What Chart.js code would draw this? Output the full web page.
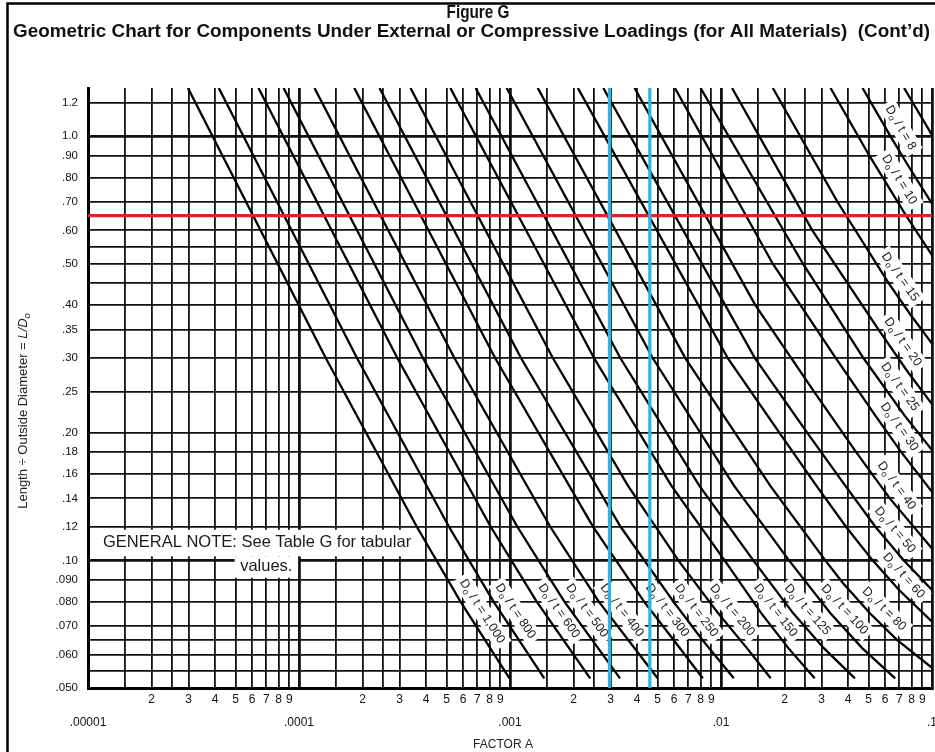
<!DOCTYPE html>
<html>
<head>
<meta charset="utf-8">
<script src="https://cdn.jsdelivr.net/npm/chart.js@4.4.1/dist/chart.umd.min.js"></script>
<style>
  html, body { margin: 0; padding: 0; background: #fff; }
  #wrap { width: 935px; height: 752px; position: relative; }
</style>
</head>
<body>
<div id="wrap"><canvas id="c" width="935" height="752"></canvas></div>
<script>
// ---- axis grid values and tick labels ----
const X_DECADES = [1e-5, 1e-4, 1e-3, 1e-2, 1e-1];
const X_DECADE_LABELS = ['.00001', '.0001', '.001', '.01', '.1'];
const X_MULTIPLES = [1, 1.5, 2, 2.5, 3, 4, 5, 6, 7, 8, 9];
const X_DIGIT_LABELS = ['', '', '2', '', '3', '4', '5', '6', '7', '8', '9'];

const Y_GRID = [0.05, 0.055, 0.06, 0.065, 0.07, 0.08, 0.09, 0.10, 0.12, 0.14, 0.16, 0.18, 0.20,
  0.25, 0.30, 0.35, 0.40, 0.45, 0.50, 0.55, 0.60, 0.65, 0.70, 0.80, 0.90, 1.0, 1.2];
const Y_LABELS = ['.050', '', '.060', '', '.070', '.080', '.090', '.10', '.12', '.14', '.16', '.18', '.20',
  '.25', '.30', '.35', '.40', '', '.50', '', '.60', '', '.70', '.80', '.90', '1.0', '1.2'];
const Y_HEAVY = [0.10, 1.0];

// ---- Do/t curves: [Factor A, L/Do] points along each line ----
const CURVE_1000 = [[2.976e-5, 1.3], [1.339e-4, 0.3], [3.617e-4, 0.12], [5.817e-4, 0.08], [9.945e-4, 0.0527]];
const CURVE_800 = [[4.165e-5, 1.3], [1.8825e-4, 0.3], [5.138e-4, 0.12], [8.345e-4, 0.08], [1.4537e-3, 0.0527]];
const CURVE_600 = [[6.424e-5, 1.3], [2.9233e-4, 0.3], [8.101e-4, 0.12], [1.3359e-3, 0.08], [2.3982e-3, 0.0527]];
const CURVE_500 = [[8.455e-5, 1.3], [3.8667e-4, 0.3], [1.0835e-3, 0.12], [1.8073e-3, 0.08], [3.3217e-3, 0.0527]];
const CURVE_400 = [[1.184e-4, 1.3], [5.45e-4, 0.3], [1.5513e-3, 0.12], [2.6304e-3, 0.08], [5.0083e-3, 0.0527]];
const CURVE_300 = [[1.828e-4, 1.3], [8.499e-4, 0.3], [2.4771e-3, 0.12], [4.3114e-3, 0.08], [5.95e-3, 0.065], [8.2e-3, 0.0527]];
const CURVE_250 = [[2.407e-4, 1.3], [1.1273e-3, 0.3], [3.3439e-3, 0.12], [5.939e-3, 0.08], [8.15e-3, 0.065], [0.0115, 0.0527]];
const CURVE_200 = [[3.374e-4, 1.3], [1.5956e-3, 0.3], [3.6208e-3, 0.15], [6.276e-3, 0.1], [9.7e-3, 0.075], [0.0133, 0.062], [0.0172, 0.0527]];
const CURVE_150 = [[5.214e-4, 1.3], [2.5017e-3, 0.3], [5.815e-3, 0.15], [0.0104, 0.1], [0.01554, 0.075], [0.0209, 0.062], [0.0278, 0.0527]];
const CURVE_125 = [[6.872e-4, 1.3], [3.3328e-3, 0.3], [7.888e-3, 0.15], [0.01423, 0.1], [0.022, 0.075], [0.0308, 0.062], [0.0431, 0.0527]];
const CURVE_100 = [[9.641e-4, 1.3], [4.745e-3, 0.3], [0.011524, 0.15], [0.021, 0.1], [0.033, 0.075], [0.0468, 0.062], [0.0669, 0.0527]];
const CURVE_80 = [[1.3531e-3, 1.3], [6.772e-3, 0.3], [0.0171, 0.15], [0.0312, 0.1], [0.0379, 0.0883], [0.0508, 0.075], [0.068, 0.065], [0.1, 0.0558]];
const CURVE_60 = [[2.0968e-3, 1.3], [0.010764, 0.3], [0.0189, 0.2], [0.0283, 0.15], [0.0391, 0.12], [0.0523, 0.1], [0.07, 0.085], [0.1, 0.0717]];
const CURVE_50 = [[2.7678e-3, 1.3], [0.014478, 0.3], [0.0256, 0.2], [0.0388, 0.15], [0.0539, 0.12], [0.0734, 0.1], [0.1, 0.0852]];
const CURVE_40 = [[3.8923e-3, 1.3], [0.014545, 0.4], [0.0276, 0.25], [0.0437, 0.18], [0.0631, 0.14], [0.1, 0.1067]];
const CURVE_30 = [[6.0468e-3, 1.3], [0.017624, 0.5], [0.035, 0.3], [0.0537, 0.22], [0.0715, 0.18], [0.1, 0.1451]];
const CURVE_25 = [[8.0e-3, 1.3], [0.0245, 0.5], [0.0473, 0.3], [0.0739, 0.22], [0.1, 0.182]];
const CURVE_20 = [[0.011281, 1.3], [0.027092, 0.6], [0.0558, 0.35], [0.0761, 0.28], [0.1, 0.2335]];
const CURVE_15 = [[0.017596, 1.3], [0.03568, 0.7], [0.062403, 0.45], [0.078961, 0.38], [0.1, 0.3245]];
const CURVE_10 = [[0.033048, 1.3], [0.050495, 0.9], [0.07536, 0.65], [0.1, 0.5249]];
const CURVE_8 = [[0.046867, 1.3], [0.063587, 1.0], [0.077392, 0.85], [0.1, 0.6938]];
const CURVE_6 = [[0.073753, 1.3], [0.1, 1.007]];

const DO_T_VALUES = ['1,000', '800', '600', '500', '400', '300', '250', '200', '150', '125', '100',
  '80', '60', '50', '40', '30', '25', '20', '15', '10', '8', ''];
const CURVES = [CURVE_1000, CURVE_800, CURVE_600, CURVE_500, CURVE_400, CURVE_300, CURVE_250, CURVE_200,
  CURVE_150, CURVE_125, CURVE_100, CURVE_80, CURVE_60, CURVE_50, CURVE_40, CURVE_30, CURVE_25, CURVE_20,
  CURVE_15, CURVE_10, CURVE_8, CURVE_6];
// L/Do level along each curve where its Do/t tag sits
const TAG_AT_L = [0.073, 0.073, 0.073, 0.073, 0.073, 0.073, 0.073, 0.073, 0.073, 0.073, 0.073,
  0.073, 0.0878, 0.1127, 0.1439, 0.1982, 0.2463, 0.3145, 0.4477, 0.762, 1.011, null];

// ---- reference readings ----
const SELECTED_L = 0.65;
const SELECTED_A = [0.00296, 0.0046];

// ---- derived tick tables ----
const X_TICKS = [];
X_DECADES.forEach((d, i) => {
  if (i === X_DECADES.length - 1) {
    X_TICKS.push({ value: d, label: ['', X_DECADE_LABELS[i]], major: true });
    return;
  }
  X_MULTIPLES.forEach((m, j) => {
    X_TICKS.push({
      value: d * m,
      label: j === 0 ? ['', X_DECADE_LABELS[i]] : [X_DIGIT_LABELS[j]],
      major: j === 0
    });
  });
});

const FONT = '"Liberation Sans", Arial, Helvetica, sans-serif';

const datasets = [];
SELECTED_A.forEach(a => {
  datasets.push({
    data: [{ x: a, y: 0.05 }, { x: a, y: 1.3 }],
    borderColor: '#29b6e6', borderWidth: 3.2, order: 0
  });
});
datasets.push({
  data: [{ x: 1e-5, y: SELECTED_L }, { x: 0.1, y: SELECTED_L }],
  borderColor: '#e3202e', borderWidth: 3.2, order: 1
});
CURVES.forEach((c, i) => {
  datasets.push({
    data: c.map(p => ({ x: p[0], y: p[1] })),
    borderColor: '#000', borderWidth: 2.3, order: 2,
    doT: DO_T_VALUES[i], tagL: TAG_AT_L[i]
  });
});

// find where a drawn curve crosses a given pixel row
function crossing(meta, yPix) {
  const pts = meta.data;
  for (let i = 0; i < pts.length - 1; i++) {
    const a = pts[i], b = pts[i + 1];
    if ((a.y - yPix) * (b.y - yPix) <= 0 && a.y !== b.y) {
      const t = (yPix - a.y) / (b.y - a.y);
      return { x: a.x + t * (b.x - a.x), y: yPix, ang: Math.atan2(b.y - a.y, b.x - a.x) };
    }
  }
  return null;
}

function drawTag(ctx, cx, cy, ang, value) {
  const big = '12.5px ' + FONT, small = '9px ' + FONT;
  ctx.save();
  ctx.translate(cx, cy);
  ctx.rotate(ang);
  ctx.font = big;
  const wD = ctx.measureText('D').width;
  const rest = ' / t = ' + value;
  const wR = ctx.measureText(rest).width;
  ctx.font = small;
  const wo = ctx.measureText('o').width;
  const w = wD + wo + wR;
  ctx.fillStyle = '#fff';
  ctx.fillRect(-w / 2 - 4, -9, w + 8, 18);
  ctx.fillStyle = '#1a1a1a';
  ctx.textBaseline = 'middle';
  ctx.textAlign = 'left';
  let x = -w / 2;
  ctx.font = big; ctx.fillText('D', x, 0); x += wD;
  ctx.font = small; ctx.fillText('o', x, 3.5); x += wo;
  ctx.font = big; ctx.fillText(rest, x, 0);
  ctx.restore();
}

const decorations = {
  id: 'decorations',
  beforeDraw(chart) {
    const ctx = chart.ctx;
    ctx.save();
    ctx.fillStyle = '#fff';
    ctx.fillRect(0, 0, chart.width, chart.height);
    ctx.restore();
  },
  beforeDatasetsDraw(chart) {
    const ctx = chart.ctx;
    const xs = chart.scales.x, ys = chart.scales.y, area = chart.chartArea;
    // general note panel
    const y12 = ys.getPixelForValue(0.12), y10 = ys.getPixelForValue(0.10), y09 = ys.getPixelForValue(0.09);
    ctx.save();
    ctx.fillStyle = '#fff';
    ctx.fillRect(area.left + 3, y12 + 3, xs.getPixelForValue(3.9e-4) - area.left - 3, y10 - y12 - 7);
    ctx.fillRect(xs.getPixelForValue(4.95e-5), y10 - 4, xs.getPixelForValue(9.9e-5) - xs.getPixelForValue(4.95e-5), y09 - y10 + 2);
    ctx.fillStyle = '#1a1a1a';
    ctx.font = '16.5px ' + FONT;
    ctx.textBaseline = 'middle';
    ctx.textAlign = 'left';
    ctx.fillText('GENERAL NOTE: See Table G for tabular', area.left + 15, y12 + 16);
    ctx.textAlign = 'center';
    ctx.fillText('values.', xs.getPixelForValue(7.0e-5), y10 + 6);
    ctx.restore();
    // Do/t tags
    chart.data.datasets.forEach((ds, i) => {
      if (!ds.doT || ds.tagL == null) return;
      const meta = chart.getDatasetMeta(i);
      const c = crossing(meta, ys.getPixelForValue(ds.tagL));
      if (!c) return;
      const off = 13;
      const cx = c.x + Math.sin(c.ang) * off, cy = c.y - Math.cos(c.ang) * off;
      drawTag(ctx, cx, cy, c.ang, ds.doT);
    });
  },
  afterDraw(chart) {
    const ctx = chart.ctx;
    ctx.save();
    // frame
    ctx.strokeStyle = '#000';
    ctx.lineWidth = 2.5;
    ctx.beginPath();
    ctx.moveTo(7.5, chart.height + 2);
    ctx.lineTo(7.5, 3.5);
    ctx.lineTo(chart.width + 2, 3.5);
    ctx.stroke();
    // titles
    ctx.fillStyle = '#111';
    ctx.textBaseline = 'middle';
    ctx.textAlign = 'center';
    ctx.font = 'bold 18px ' + FONT;
    ctx.save();
    ctx.translate(478, 13);
    ctx.scale(0.85, 1);
    ctx.fillText('Figure G', 0, 0);
    ctx.restore();
    const t2 = 'Geometric Chart for Components Under External or Compressive Loadings (for All Materials)  (Cont\u2019d)';
    const w2 = ctx.measureText(t2).width;
    ctx.save();
    ctx.translate(471.5, 32);
    ctx.scale(917 / w2, 1);
    ctx.fillText(t2, 0, 0);
    ctx.restore();
    // axis titles
    ctx.fillStyle = '#222';
    ctx.font = '12px ' + FONT;
    ctx.fillText('FACTOR A', 503, 745);
    ctx.save();
    ctx.translate(23, 411);
    ctx.rotate(-Math.PI / 2);
    const p1 = 'Length \u00f7 Outside Diameter = ';
    const f1 = '13px ' + FONT, f2 = 'italic 13px ' + FONT, f3 = 'italic 9.5px ' + FONT;
    ctx.font = f1; const w1 = ctx.measureText(p1).width;
    ctx.font = f2; const wl = ctx.measureText('L/D').width;
    ctx.font = f3; const wo = ctx.measureText('o').width;
    let x = -(w1 + wl + wo) / 2;
    ctx.textAlign = 'left';
    ctx.font = f1; ctx.fillText(p1, x, 0); x += w1;
    ctx.font = f2; ctx.fillText('L/D', x, 0); x += wl;
    ctx.font = f3; ctx.fillText('o', x, 4);
    ctx.restore();
    ctx.restore();
  }
};

new Chart(document.getElementById('c'), {
  type: 'line',
  data: { datasets },
  options: {
    responsive: false,
    animation: false,
    devicePixelRatio: 1,
    layout: { padding: { top: 88, right: 3, bottom: 0, left: 0 } },
    plugins: { legend: { display: false }, tooltip: { enabled: false }, title: { display: false } },
    elements: { point: { radius: 0 }, line: { tension: 0, borderCapStyle: 'butt' } },
    scales: {
      x: {
        type: 'logarithmic',
        min: 1e-5, max: 0.1,
        afterBuildTicks: s => { s.ticks = X_TICKS.map(t => ({ value: t.value })); },
        afterFit: s => { s.height = 64; s.paddingLeft = 0; s.paddingRight = 0; },
        ticks: {
          autoSkip: false, maxRotation: 0, minRotation: 0, padding: 0,
          color: '#111',
          font: { family: FONT, size: 12, lineHeight: '23px' },
          callback: (v, i) => X_TICKS[i] ? X_TICKS[i].label : ''
        },
        grid: {
          color: '#111',
          drawTicks: false,
          lineWidth: c => (X_TICKS[c.index] && X_TICKS[c.index].major) ? 2.8 : 1.8
        },
        border: { display: true, color: '#000', width: 3 }
      },
      y: {
        type: 'logarithmic',
        min: 0.05, max: 1.3,
        afterBuildTicks: s => { s.ticks = Y_GRID.map(v => ({ value: v })); },
        afterFit: s => { s.width = 88; s.paddingTop = 0; s.paddingBottom = 0; },
        ticks: {
          autoSkip: false, padding: 10,
          color: '#111',
          font: { family: FONT, size: 11.5 },
          callback: (v, i) => Y_LABELS[i] !== undefined ? Y_LABELS[i] : ''
        },
        grid: {
          color: '#111',
          drawTicks: false,
          lineWidth: c => (c.tick && Y_HEAVY.some(h => Math.abs(h - c.tick.value) < 1e-9)) ? 2.8 : 1.8
        },
        border: { display: true, color: '#000', width: 3 }
      }
    }
  },
  plugins: [decorations]
});
</script>
</body>
</html>
